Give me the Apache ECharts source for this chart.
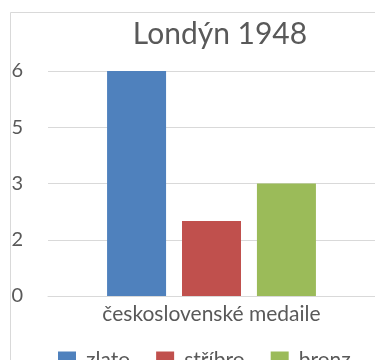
<!DOCTYPE html>
<html>
<head>
<meta charset="utf-8">
<style>
  html, body { margin: 0; padding: 0; background: #ffffff; }
  #chart { width: 375px; height: 360px; }
</style>
<script src="https://cdn.jsdelivr.net/npm/echarts@6/dist/echarts.min.js"></script>
</head>
<body>
<div id="chart"></div>
<script>
// Czechoslovak medals at the London 1948 Olympic Games
const chartTitle = 'Londýn 1948';
const categories = ['československé medaile'];
const seriesNames = ['zlato', 'stříbro', 'bronz'];
const seriesValues = [[6], [2], [3]];
const seriesColors = ['#4F81BD', '#C0504D', '#9BBB59'];
// value axis ticks: 0, 1.5, 3, 4.5, 6 shown with whole-number format
const yTickValues = [0, 1.5, 3, 4.5, 6];
const yTickLabels = ['0', '2', '3', '5', '6'];

const textColor = '#595959';
const lineColor = '#D9D9D9';
const font = 'Lato, "Open Sans", sans-serif';

const chart = echarts.init(document.getElementById('chart'), null, { renderer: 'canvas' });

chart.setOption({
  backgroundColor: '#ffffff',
  animation: false,
  graphic: [{
    type: 'rect',
    shape: { x: 10.5, y: 12.5, width: 420, height: 420 },
    style: { fill: 'none', stroke: lineColor, lineWidth: 1 },
    silent: true,
    z: -1
  }],
  title: {
    text: chartTitle,
    left: 215,
    top: 14,
    textAlign: 'center',
    textStyle: { fontFamily: font, fontSize: 30, fontWeight: 'normal', color: textColor }
  },
  legend: {
    left: 53,
    top: 345,
    itemWidth: 18,
    itemHeight: 18,
    itemGap: 26,
    icon: 'rect',
    textStyle: { fontFamily: font, fontSize: 21, color: textColor, padding: [0, 0, 0, 5] },
    data: seriesNames
  },
  grid: { left: 48, top: 71, width: 345, height: 225, containLabel: false },
  xAxis: {
    type: 'category',
    data: categories,
    axisLine: { show: true, lineStyle: { color: lineColor, width: 1 } },
    axisTick: { show: false },
    axisLabel: { fontFamily: font, fontSize: 21, color: textColor, margin: 8 }
  },
  yAxis: {
    type: 'value',
    min: yTickValues[0],
    max: yTickValues[yTickValues.length - 1],
    interval: yTickValues[1] - yTickValues[0],
    axisLine: { show: false },
    axisTick: { show: false },
    splitLine: { lineStyle: { color: lineColor, width: 1 } },
    axisLabel: {
      fontFamily: font,
      fontSize: 20,
      color: textColor,
      margin: 25,
      formatter: function (v) {
        const i = yTickValues.indexOf(v);
        return i >= 0 ? yTickLabels[i] : '';
      }
    }
  },
  series: seriesNames.map(function (name, i) {
    return {
      name: name,
      type: 'bar',
      data: seriesValues[i],
      barWidth: 59,
      barGap: '27%',
      itemStyle: { color: seriesColors[i] }
    };
  })
});
</script>
</body>
</html>
